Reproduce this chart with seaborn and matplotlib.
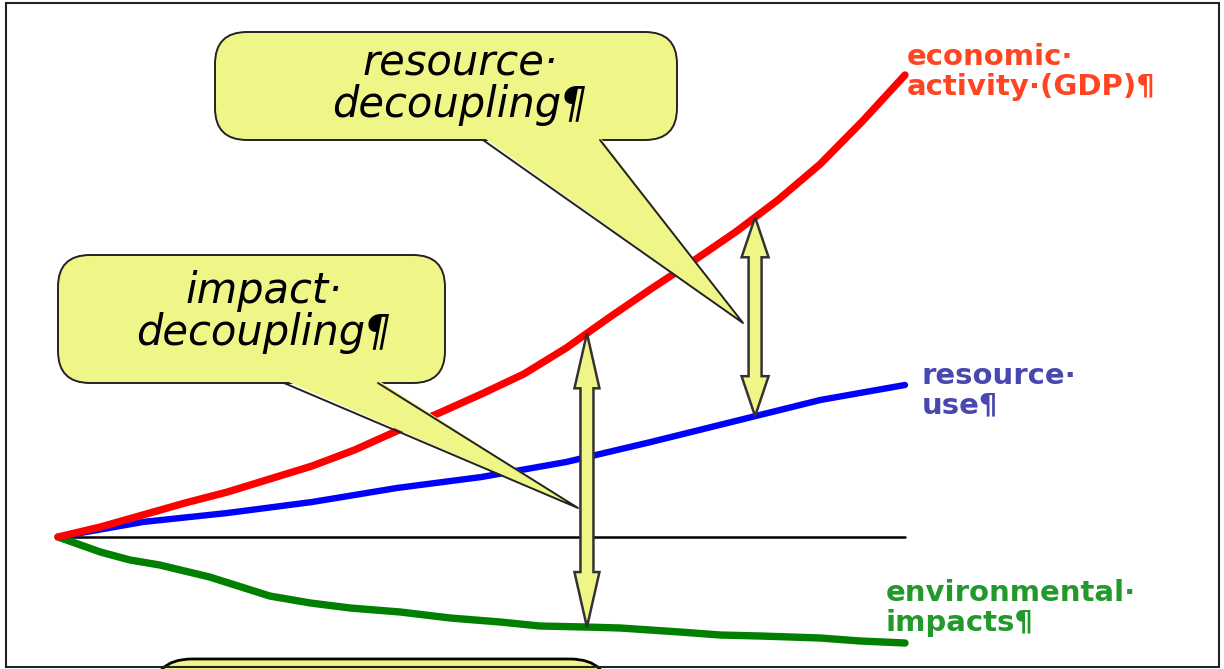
import numpy as np
import matplotlib
matplotlib.use('Agg')
import matplotlib.pyplot as plt
import matplotlib.transforms as mtransforms
import seaborn as sns
from matplotlib.patches import FancyBboxPatch, Polygon, Rectangle

# time steps (arbitrary units) and levels relative to the common start
gdp_t = [0, 0.5, 1, 1.5, 2, 2.5, 3, 3.5, 4, 4.5, 5,
         5.5, 6, 6.5, 7, 7.5, 8, 8.5, 9, 9.5, 10]
gdp = [0.00, 0.10, 0.22, 0.34, 0.45, 0.58, 0.71, 0.87, 1.06, 1.24, 1.43,
       1.63, 1.89, 2.19, 2.48, 2.76, 3.05, 3.37, 3.73, 4.16, 4.62]
resource_t = [0, 1, 2, 3, 4, 5, 6, 7, 8, 9, 10]
resource_use = [0.00, 0.15, 0.24, 0.35, 0.49, 0.60, 0.75, 0.95, 1.16, 1.37, 1.52]
impact_t = [0, 0.50, 0.85, 1.20, 1.79, 2.50, 2.98, 3.45, 4.04, 4.63,
            5.22, 5.69, 6.22, 6.64, 7.34, 7.82, 8.29, 9.00, 9.47, 10]
env_impacts = [0.00, -0.15, -0.23, -0.28, -0.40, -0.59, -0.66, -0.71, -0.75, -0.81,
               -0.85, -0.89, -0.90, -0.91, -0.95, -0.98, -0.99, -1.01, -1.04, -1.06]
baseline_t = [0, 10]
baseline = [0, 0]

series_labels = ["economic·\nactivity·(GDP)¶", "resource·\nuse¶", "environmental·\nimpacts¶"]
callout_labels = ["resource·\ndecoupling¶", "impact·\ndecoupling¶"]
gap_t = [6.245, 8.23]  # impact gap, resource gap

W, H = 1224, 669
X0, PX_T = 58, 84.7     # pixel of t=0, pixels per time step
Y0, PX_V = 537, 100     # pixel of level 0, pixels per unit

YELLOW = '#f0f587'

sns.set_theme(style='white')
plt.rcParams['font.family'] = ['DejaVu Sans']

fig = plt.figure(figsize=(W / 100, H / 100), dpi=100)
ax = fig.add_axes([0, 0, 1, 1])
ax.set_xlim(-X0 / PX_T, (W - X0) / PX_T)
ax.set_ylim((Y0 - H) / PX_V, Y0 / PX_V)
ax.axis('off')

# pixel coordinates measured from the top-left corner
pix = mtransforms.Affine2D().scale(1, -1).translate(0, H)

line_kw = dict(ax=ax, zorder=2, solid_capstyle='round', solid_joinstyle='round')
sns.lineplot(x=baseline_t, y=baseline, color='black', lw=1.8, ax=ax, zorder=1)
sns.lineplot(x=impact_t, y=env_impacts, color='#007f00', lw=5.3, **line_kw)
sns.lineplot(x=resource_t, y=resource_use, color='#0000ff', lw=4.6, **line_kw)
sns.lineplot(x=gdp_t, y=gdp, color='#ff0000', lw=5.3, **line_kw)


def double_arrow(t, y_top, y_bot, shaft_px, head_w_px, head_len_px):
    hw = shaft_px / 2 / PX_T
    hh = head_w_px / 2 / PX_T
    hl = head_len_px / PX_V
    verts = [(t, y_top), (t + hh, y_top - hl), (t + hw, y_top - hl),
             (t + hw, y_bot + hl), (t + hh, y_bot + hl), (t, y_bot),
             (t - hh, y_bot + hl), (t - hw, y_bot + hl),
             (t - hw, y_top - hl), (t - hh, y_top - hl)]
    ax.add_patch(Polygon(verts, closed=True, facecolor=YELLOW,
                         edgecolor='#333333', lw=1.8, zorder=5))


# impact decoupling: GDP vs environmental impacts
t1 = gap_t[0]
double_arrow(t1, np.interp(t1, gdp_t, gdp), np.interp(t1, impact_t, env_impacts), 13, 25, 55)
# resource decoupling: GDP vs resource use
t2 = gap_t[1]
double_arrow(t2, np.interp(t2, gdp_t, gdp), np.interp(t2, resource_t, resource_use), 13, 27, 40)


def callout(box, base, tip, text, text_xy):
    x0, y0, x1, y1 = box
    ax.add_patch(FancyBboxPatch((x0, y0), x1 - x0, y1 - y0,
                                boxstyle='round,pad=0,rounding_size=32',
                                facecolor=YELLOW, edgecolor='#222222', lw=1.4,
                                transform=pix, zorder=6))
    bx0, bx1 = base
    ax.add_patch(Polygon([(bx0, y1 - 3), (bx1, y1 - 3), tip], closed=True,
                         facecolor=YELLOW, edgecolor='none', transform=pix, zorder=7))
    ax.plot([bx0, tip[0], bx1], [y1, tip[1], y1], color='#222222', lw=1.4,
            transform=pix, zorder=7)
    ax.text(text_xy[0], text_xy[1], text, transform=pix, ha='center', va='center',
            multialignment='center', fontsize=30, style='italic', color='black',
            linespacing=1.0, zorder=8)


callout((215, 32, 677, 140), (483, 600), (743, 323), callout_labels[0], (460, 84))
callout((58, 255, 445, 383), (284, 378), (578, 508), callout_labels[1], (264, 312))

# partly visible callout at the bottom edge
ax.add_patch(FancyBboxPatch((152, 659), 458, 100, boxstyle='round,pad=0,rounding_size=40',
                            facecolor=YELLOW, edgecolor='black', lw=2, transform=pix, zorder=6))

label_style = dict(transform=pix, ha='left', va='center', fontsize=21,
                   fontweight='bold', linespacing=1.07)
ax.text(907, 72, series_labels[0], color='#ff4422', **label_style)
ax.text(922, 391, series_labels[1], color='#4848b0', **label_style)
ax.text(886, 608, series_labels[2], color='#22992a', **label_style)

# page frame
ax.add_patch(Rectangle((6, 3), 1213, 664, fill=False, edgecolor='#222222', lw=1.5,
                       transform=pix, zorder=9))

fig.savefig('out.png', dpi=100)
